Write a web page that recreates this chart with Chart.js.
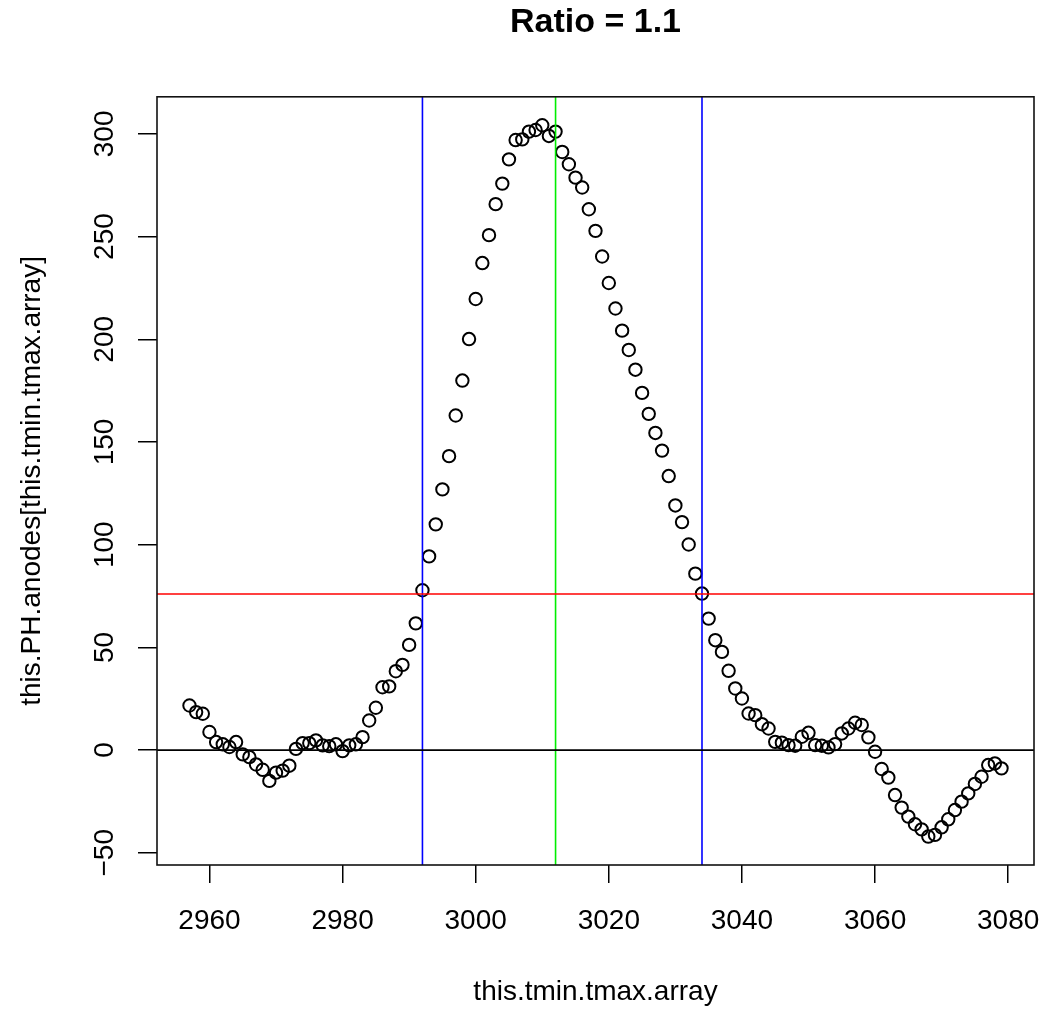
<!DOCTYPE html>
<html>
<head>
<meta charset="utf-8">
<script src="https://cdn.jsdelivr.net/npm/chart.js@4.4.1/dist/chart.umd.min.js"></script>
<style>
  html, body { margin: 0; padding: 0; background: #fff; }
  #wrap { width: 1050px; height: 1017px; }
</style>
</head>
<body>
<div id="wrap"><canvas id="grafico" width="1050" height="1017"></canvas></div>
<script>
// valores
const tempos = [
  2957, 2958, 2959, 2960, 2961, 2962, 2963, 2964, 2965, 2966, 2967, 2968, 2969, 2970,
  2971, 2972, 2973, 2974, 2975, 2976, 2977, 2978, 2979, 2980, 2981, 2982, 2983, 2984,
  2985, 2986, 2987, 2988, 2989, 2990, 2991, 2992, 2993, 2994, 2995, 2996, 2997, 2998,
  2999, 3000, 3001, 3002, 3003, 3004, 3005, 3006, 3007, 3008, 3009, 3010, 3011, 3012,
  3013, 3014, 3015, 3016, 3017, 3018, 3019, 3020, 3021, 3022, 3023, 3024, 3025, 3026,
  3027, 3028, 3029, 3030, 3031, 3032, 3033, 3034, 3035, 3036, 3037, 3038, 3039, 3040,
  3041, 3042, 3043, 3044, 3045, 3046, 3047, 3048, 3049, 3050, 3051, 3052, 3053, 3054,
  3055, 3056, 3057, 3058, 3059, 3060, 3061, 3062, 3063, 3064, 3065, 3066, 3067, 3068,
  3069, 3070, 3071, 3072, 3073, 3074, 3075, 3076, 3077, 3078, 3079
];
const anodos = [
  21.7, 18.5, 17.7, 8.8, 3.9, 2.8, 1.5, 3.9, -2.1, -3.4, -7, -9.6, -15, -11,
  -10, -7.6, 0.6, 3.4, 3.4, 4.7, 2.3, 1.9, 2.8, -0.5, 2.3, 2.8, 6.3, 14.4,
  20.6, 30.6, 31, 38.4, 41.5, 51.2, 61.7, 77.8, 94.3, 109.9, 126.9, 143.1, 162.9, 179.9,
  200.1, 219.6, 237.1, 250.7, 265.8, 275.8, 287.6, 297, 297.3, 301.1, 301.9, 304.2, 299, 301.1,
  291.2, 285.2, 278.7, 273.9, 263.3, 252.8, 240.3, 227.4, 215, 204.2, 194.8, 185.2, 173.9, 163.7,
  154.4, 145.8, 133.4, 119.1, 111, 100.1, 85.9, 76.2, 64, 53.5, 47.8, 38.6, 30, 25.1,
  17.8, 17, 12.6, 10.5, 4, 3.6, 2.4, 2.1, 6.5, 8.4, 2.4, 2.1, 1.3, 2.9,
  8.1, 10.5, 13.3, 12.2, 6.2, -0.8, -9.2, -13.4, -21.9, -28, -32.4, -36.1, -38.6, -42.1,
  -41.3, -37.6, -33.7, -29.2, -25.1, -21.1, -16.5, -13, -7.3, -6.5, -8.9
];
const ticksX = [2960, 2980, 3000, 3020, 3040, 3060, 3080];
const ticksY = [-50, 0, 50, 100, 150, 200, 250, 300];
const linhasH = [0, 76];
const coresH = ['#000000', '#ff0000'];
const linhasV = [2992, 3034, 3012];
const coresV = ['#0000ff', '#0000ff', '#00ee00'];

// limites como no R (4% de folga)
const dx = Math.max(...tempos) - Math.min(...tempos);
const dy = Math.max(...anodos) - Math.min(...anodos);
const xMin = Math.min(...tempos) - 0.04 * dx;
const xMax = Math.max(...tempos) + 0.04 * dx;
const yMin = Math.min(...anodos) - 0.04 * dy;
const yMax = Math.max(...anodos) + 0.04 * dy;

const fonte = "'Liberation Sans', Arial, sans-serif";

const datasets = [];
linhasH.forEach((v, i) => {
  datasets.push({
    type: 'line',
    data: [{ x: xMin, y: v }, { x: xMax, y: v }],
    borderColor: coresH[i],
    borderWidth: 1.6,
    pointRadius: 0
  });
});
linhasV.forEach((v, i) => {
  datasets.push({
    type: 'line',
    data: [{ x: v, y: yMin }, { x: v, y: yMax }],
    borderColor: coresV[i],
    borderWidth: 1.6,
    pointRadius: 0
  });
});
datasets.push({
  type: 'scatter',
  data: tempos.map((t, i) => ({ x: t, y: anodos[i] })),
  borderColor: '#000',
  backgroundColor: 'rgba(0,0,0,0)',
  borderWidth: 2,
  pointRadius: 6.2,
  pointStyle: 'circle'
});

// moldura e rotulos verticais do eixo y (estilo R)
const estiloR = {
  id: 'estiloR',
  afterDraw(chart) {
    const { ctx, chartArea } = chart;
    const y = chart.scales.y;
    ctx.save();
    ctx.strokeStyle = '#111';
    ctx.lineWidth = 1.6;
    ctx.strokeRect(chartArea.left, chartArea.top, chartArea.right - chartArea.left, chartArea.bottom - chartArea.top);
    ctx.fillStyle = '#000';
    ctx.font = '28px ' + fonte;
    ctx.textAlign = 'center';
    ctx.textBaseline = 'alphabetic';
    ticksY.forEach(v => {
      ctx.save();
      ctx.translate(y.right - 44, y.getPixelForValue(v));
      ctx.rotate(-Math.PI / 2);
      ctx.fillText(String(v).replace('-', '\u2212'), 0, 0);
      ctx.restore();
    });
    ctx.restore();
  }
};

new Chart(document.getElementById('grafico'), {
  type: 'scatter',
  data: { datasets },
  options: {
    responsive: false,
    animation: false,
    layout: { padding: { left: 0, right: 16, top: 0, bottom: 0 } },
    plugins: {
      legend: { display: false },
      tooltip: { enabled: false },
      title: {
        display: true,
        fullSize: false,
        text: 'Ratio = 1.1',
        color: '#000',
        font: { family: fonte, size: 34, weight: 'bold' },
        padding: { top: 2, bottom: 54 }
      }
    },
    scales: {
      x: {
        type: 'linear',
        min: xMin,
        max: xMax,
        afterBuildTicks: s => { s.ticks = ticksX.map(value => ({ value })); },
        afterFit: s => { s.height = 152; s.paddingLeft = 0; s.paddingRight = 0; },
        grid: { drawOnChartArea: false, drawTicks: true, tickLength: 18, color: '#000', lineWidth: 1.5 },
        border: { display: false },
        ticks: {
          color: '#000',
          font: { family: fonte, size: 28 },
          padding: 21,
          maxRotation: 0,
          autoSkip: false,
          callback: v => String(v)
        },
        title: {
          display: true,
          text: 'this.tmin.tmax.array',
          color: '#000',
          font: { family: fonte, size: 28 },
          padding: { top: 0, bottom: 8 }
        }
      },
      y: {
        type: 'linear',
        min: yMin,
        max: yMax,
        afterBuildTicks: s => { s.ticks = ticksY.map(value => ({ value })); },
        afterFit: s => { s.width = 157; s.paddingTop = 0; s.paddingBottom = 0; },
        grid: { drawOnChartArea: false, drawTicks: true, tickLength: 19, color: '#000', lineWidth: 1.5 },
        border: { display: false },
        ticks: { display: false },
        title: {
          display: true,
          text: 'this.PH.anodes[this.tmin.tmax.array]',
          color: '#000',
          font: { family: fonte, size: 28 },
          padding: { top: 15, bottom: 0 }
        }
      }
    }
  },
  plugins: [estiloR]
});
</script>
</body>
</html>
